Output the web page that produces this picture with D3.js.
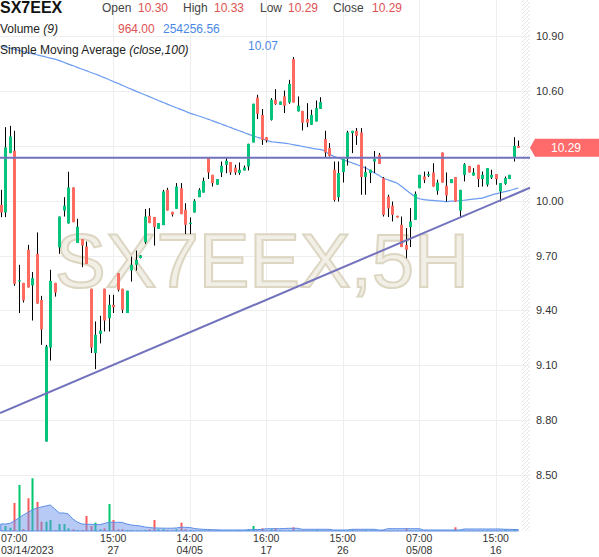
<!DOCTYPE html>
<html><head><meta charset="utf-8">
<script src="https://cdn.jsdelivr.net/npm/d3@7"></script>
<style>body{margin:0;background:#fff;} svg{display:block;font-family:"Liberation Sans",Arial,sans-serif;}</style>
</head><body><svg id="c" width="599" height="557"></svg>
<script>
const opens = [9.978,9.936,10.261,10.274,9.562,9.551,9.732,9.537,9.71,9.457,8.683,9.197,9.551,9.745,9.947,9.876,10.073,9.769,9.79,9.75,9.519,9.167,9.272,9.519,9.358,9.431,9.604,9.519,9.386,9.619,9.65,9.687,9.774,9.918,9.911,9.847,9.867,10.06,9.94,9.956,10.069,9.951,9.876,9.936,10.02,10.045,10.237,10.142,10.088,10.155,10.197,10.212,10.181,10.152,10.166,10.188,10.319,10.565,10.47,10.348,10.443,10.553,10.525,10.571,10.538,10.775,10.489,10.492,10.447,10.416,10.434,10.503,10.338,10.288,10.17,10.02,10.157,10.228,10.37,10.383,10.374,10.13,10.152,10.215,10.252,10.124,10.023,9.973,9.918,9.869,9.759,9.856,9.896,10.069,10.133,10.138,10.155,10.055,10.264,10.082,10.097,10.13,9.947,10.142,10.191,10.138,10.197,10.119,10.088,10.127,10.146,10.051,10.093,10.119,10.234,10.30];
const highs = [10.06,10.403,10.41,10.383,9.65,9.551,9.759,9.61,9.827,9.48,9.212,9.623,9.551,9.914,10.02,10.159,10.073,9.902,9.79,9.777,9.519,9.34,9.371,9.519,9.486,9.486,9.604,9.519,9.508,9.695,9.728,9.703,9.955,9.96,9.911,9.878,10.06,10.071,9.94,10.097,10.097,9.987,9.909,10.009,10.069,10.127,10.237,10.142,10.119,10.215,10.239,10.212,10.197,10.21,10.193,10.312,10.531,10.58,10.502,10.348,10.562,10.611,10.543,10.603,10.662,10.786,10.571,10.492,10.534,10.498,10.549,10.567,10.383,10.316,10.215,10.215,10.228,10.383,10.383,10.398,10.398,10.188,10.17,10.273,10.261,10.13,10.033,9.996,9.918,9.914,9.851,9.96,10.051,10.142,10.16,10.16,10.206,10.115,10.264,10.155,10.119,10.13,10.06,10.206,10.191,10.179,10.197,10.16,10.179,10.17,10.146,10.097,10.133,10.142,10.348,10.33];
const lows = [9.91,9.911,10.26,9.535,9.386,9.444,9.526,9.345,9.438,9.212,8.683,9.126,9.476,9.71,9.914,9.876,9.883,9.769,9.637,9.655,9.167,9.079,9.22,9.285,9.285,9.386,9.504,9.386,9.386,9.558,9.619,9.685,9.765,9.878,9.755,9.847,9.867,9.947,9.914,9.956,9.927,9.818,9.818,9.936,10.02,10.045,10.119,10.078,10.088,10.13,10.151,10.142,10.142,10.142,10.166,10.166,10.319,10.447,10.306,10.319,10.439,10.525,10.525,10.48,10.531,10.538,10.489,10.385,10.403,10.416,10.434,10.503,10.239,10.242,9.996,9.996,10.1,10.193,10.261,10.306,10.033,10.033,10.097,10.152,10.202,9.914,9.911,9.887,9.909,9.747,9.686,9.747,9.896,10.069,10.097,10.13,10.078,10.033,10.1,9.996,10.097,9.996,9.911,10.106,10.155,10.138,10.075,10.078,10.078,10.119,10.088,9.996,10.088,10.119,10.215,10.29];
const closes = [9.936,10.292,10.352,9.546,9.565,9.455,9.526,9.577,9.438,9.296,9.203,9.562,9.498,9.914,9.973,10.073,9.883,9.858,9.755,9.655,9.197,9.267,9.29,9.345,9.431,9.418,9.513,9.404,9.508,9.65,9.677,9.701,9.914,9.878,9.856,9.878,10.051,9.947,9.925,10.078,9.927,9.869,9.88,10.0,10.06,10.109,10.155,10.097,10.119,10.191,10.219,10.155,10.155,10.17,10.182,10.312,10.531,10.476,10.334,10.33,10.553,10.529,10.543,10.52,10.64,10.538,10.52,10.427,10.428,10.47,10.507,10.54,10.264,10.246,10.005,10.152,10.228,10.374,10.383,10.356,10.13,10.157,10.17,10.228,10.202,9.923,9.959,9.923,9.909,9.747,9.732,9.887,10.038,10.142,10.115,10.146,10.078,10.1,10.1,10.029,10.119,9.996,10.06,10.2,10.155,10.155,10.119,10.142,10.179,10.142,10.119,10.097,10.124,10.142,10.301,10.29];
const volumes = [170000,850000,561000,4760000,7820000,340000,5559000,8959000,4930000,1581000,1581000,1870000,170000,1190000,1190000,459000,289000,170000,170000,2550000,850000,1411000,289000,459000,4590000,1870000,289000,289000,170000,170000,85000,85000,170000,289000,1870000,289000,289000,170000,85000,289000,1411000,289000,170000,85000,85000,85000,85000,85000,85000,85000,85000,85000,85000,170000,85000,289000,850000,85000,459000,85000,289000,459000,85000,85000,85000,629000,85000,85000,85000,85000,170000,85000,85000,85000,85000,85000,85000,85000,170000,85000,85000,170000,85000,85000,85000,170000,85000,85000,85000,85000,459000,85000,85000,85000,85000,85000,85000,85000,85000,85000,85000,629000,85000,85000,85000,85000,85000,85000,85000,85000,85000,85000,289000,85000,340000,964];
const volumeMA = [1190000,1190000,1275000,1700000,2210000,2720000,3145000,3570000,3910000,4080000,4250000,4420000,3740000,3060000,3060000,2890000,2040000,1530000,1190000,1139000,1139000,1105000,1071000,1275000,1479000,1479000,1479000,1445000,1190000,1020000,935000,850000,680000,595000,510000,510000,476000,476000,476000,510000,629000,629000,595000,425000,340000,289000,255000,221000,204000,170000,170000,170000,170000,170000,170000,204000,255000,255000,255000,391000,391000,391000,391000,425000,459000,459000,459000,289000,289000,289000,289000,289000,289000,289000,170000,170000,170000,170000,289000,289000,289000,289000,289000,289000,170000,170000,391000,391000,391000,391000,391000,391000,391000,391000,170000,170000,170000,170000,170000,170000,170000,170000,170000,340000,340000,340000,340000,340000,340000,340000,340000,340000,289000,289000,255000,254256.56];
const sma = [10.847,10.841,10.835,10.829,10.823,10.817,10.811,10.805,10.799,10.793,10.787,10.781,10.775,10.767,10.758,10.748,10.740,10.730,10.721,10.712,10.702,10.694,10.684,10.674,10.664,10.653,10.643,10.632,10.621,10.611,10.600,10.590,10.580,10.570,10.560,10.549,10.539,10.529,10.519,10.509,10.500,10.490,10.480,10.472,10.464,10.456,10.447,10.439,10.429,10.420,10.411,10.402,10.392,10.383,10.374,10.365,10.356,10.348,10.340,10.331,10.324,10.321,10.318,10.316,10.312,10.307,10.303,10.298,10.293,10.288,10.284,10.281,10.272,10.254,10.244,10.234,10.225,10.217,10.208,10.199,10.190,10.181,10.167,10.154,10.140,10.124,10.115,10.106,10.097,10.080,10.060,10.041,10.024,10.011,10.007,10.004,10.002,10.000,9.998,9.996,9.998,9.999,10.001,10.003,10.006,10.009,10.012,10.015,10.023,10.031,10.038,10.044,10.050,10.056,10.063,10.07];
const priceTicks = [8.5,8.8,9.1,9.4,9.7,10.0,10.3,10.6,10.9];
const timeTickIndex = [3,25,42,59,76,93,110];
const timeTickTop = ["07:00","15:00","14:00","16:00","15:00","07:00","15:00"];
const timeTickBottom = ["03/14/2023","27","04/05","17","26","05/08","16"];
const hLineLevel = 10.235;
const trendPoints = [{i:0, v:8.841},{i:115, v:10.044}];
const lastPrice = 10.29;

const svg = d3.select("#c");
const W = 599, plotR = 522, stripR = 530, volBase = 531;
const x = d3.scaleLinear().domain([0,115]).range([0.75,518.25]);
const y = d3.scaleLinear().domain([8.5,10.9]).range([475,36.3]);
const vy = d3.scaleLinear().domain([0,9000000]).range([volBase,478]);
const green = "#07c47c", red = "#ff6b61";

// hatch pattern
const defs = svg.append("defs");
const pat = defs.append("pattern").attr("id","hatch").attr("width",4).attr("height",4)
  .attr("patternUnits","userSpaceOnUse");
pat.append("path").attr("d","M-1,1 l2,-2 M0,4 l4,-4 M3,5 l2,-2").attr("stroke","#e4e4e4").attr("stroke-width",1);
svg.append("rect").attr("x",plotR).attr("y",0).attr("width",stripR-plotR).attr("height",volBase).attr("fill","url(#hatch)");

// gridlines
svg.append("g").selectAll("line").data(priceTicks).join("line")
  .attr("x1",0).attr("x2",stripR).attr("y1",d=>Math.round(y(d))+0.5).attr("y2",d=>Math.round(y(d))+0.5)
  .attr("stroke","#eeeeee");
svg.append("g").selectAll("line").data(timeTickIndex.slice(1)).join("line")
  .attr("x1",d=>Math.round(x(d))+0.5).attr("x2",d=>Math.round(x(d))+0.5).attr("y1",0).attr("y2",volBase)
  .attr("stroke","#eeeeee");

// watermark
svg.append("text").attr("x",262).attr("y",287).attr("text-anchor","middle")
  .attr("font-size",76).attr("fill","#f2efe6").attr("stroke","#dcd6c3").attr("stroke-width",2)
  .text("SX7EEX,5H");

// SMA line
svg.append("path").datum(sma).attr("fill","none").attr("stroke","#6b9cf0").attr("stroke-width",1.2)
  .attr("d", d3.line().x((d,i)=>x(i)).y(d=>y(d)).curve(d3.curveMonotoneX));

// candles
const idx = d3.range(opens.length);
const cg = svg.append("g");
cg.selectAll("line").data(idx).join("line")
  .attr("x1",i=>Math.round(x(i))+0.5).attr("x2",i=>Math.round(x(i))+0.5)
  .attr("y1",i=>y(highs[i])).attr("y2",i=>y(lows[i]))
  .attr("stroke","#000").attr("stroke-width",1);
cg.selectAll("rect").data(idx).join("rect")
  .attr("x",i=>Math.round(x(i))-1).attr("width",3)
  .attr("y",i=>y(Math.max(opens[i],closes[i])))
  .attr("height",i=>Math.max(1.2,Math.abs(y(opens[i])-y(closes[i]))))
  .attr("fill",i=>closes[i]>=opens[i]?green:red);

// lines
const lineCol = "#7272bd";
svg.append("line").attr("x1",0).attr("x2",stripR).attr("y1",y(hLineLevel)).attr("y2",y(hLineLevel))
  .attr("stroke",lineCol).attr("stroke-width",2);
const p0 = trendPoints[0], p1 = trendPoints[1];
const slope = (p1.v-p0.v)/(p1.i-p0.i);
const iL = x.invert(0), iR = x.invert(stripR);
svg.append("line").attr("x1",0).attr("y1",y(p0.v+slope*(iL-p0.i)))
  .attr("x2",stripR).attr("y2",y(p0.v+slope*(iR-p0.i)))
  .attr("stroke",lineCol).attr("stroke-width",2);

// volume
svg.append("g").selectAll("rect").data(idx).join("rect")
  .attr("x",i=>Math.round(x(i))-0.5).attr("width",2)
  .attr("y",i=>vy(volumes[i])).attr("height",i=>volBase-vy(volumes[i]))
  .attr("fill",i=>closes[i]>=opens[i]?"#00c86e":"#ff5a5a");
svg.append("path").datum(volumeMA).attr("fill","rgba(110,150,235,0.5)").attr("stroke","#5b8ee6").attr("stroke-width",1)
  .attr("d", d3.area().x((d,i)=>x(i)).y0(volBase).y1(d=>vy(d)));

// last price label position (tick label hidden under it is skipped)
const ly = y(lastPrice);

// y labels
svg.append("g").selectAll("text").data(priceTicks.filter(d=>Math.abs(y(d)-ly)>12)).join("text")
  .attr("x",536).attr("y",d=>y(d)+4).attr("font-size",11).attr("fill","#333")
  .text(d=>d3.format(".2f")(d));

svg.append("path").attr("d",`M530,${ly} L535,${ly-9} H${W} V${ly+9} H535 Z`).attr("fill","#ff6b6b");
svg.append("text").attr("x",566).attr("y",ly+4.5).attr("text-anchor","middle").attr("font-size",12)
  .attr("fill","#fff").text(d3.format(".2f")(lastPrice));

// x labels
const xl = svg.append("g").attr("font-size",10.5).attr("fill","#333");
timeTickIndex.forEach((d,k)=>{
  const first = k===0;
  const tx = first ? 1 : x(d);
  const anchor = first ? "start" : "middle";
  xl.append("text").attr("x",tx).attr("y",542).attr("text-anchor",anchor).text(timeTickTop[k]);
  xl.append("text").attr("x",tx).attr("y",553.5).attr("text-anchor",anchor).text(timeTickBottom[k]);
});

// header
const hdr = svg.append("g");
hdr.append("text").attr("x",0).attr("y",13).attr("font-size",16).attr("font-weight","bold").attr("fill","#111").text("SX7EEX");
const redT = "#e05252", blueT = "#4a88e4", labT = "#444";
const row1 = [["Open",102,labT],[d3.format(".2f")(opens[opens.length-1]),138,redT],["High",183,labT],[d3.format(".2f")(10.33),214,redT],
  ["Low",260,labT],[d3.format(".2f")(lows[lows.length-1]),288,redT],["Close",333,labT],[d3.format(".2f")(closes[closes.length-1]),372,redT]];
row1.forEach(r=>hdr.append("text").attr("x",r[1]).attr("y",12).attr("font-size",12).attr("fill",r[2]).text(r[0]));
const t2 = hdr.append("text").attr("x",0).attr("y",33).attr("font-size",12).attr("fill","#222");
t2.append("tspan").text("Volume ");
t2.append("tspan").attr("font-style","italic").text("(9)");
hdr.append("text").attr("x",118).attr("y",33).attr("font-size",12).attr("fill",redT).text(d3.format(".2f")(volumes[volumes.length-1]));
hdr.append("text").attr("x",163).attr("y",33).attr("font-size",12).attr("fill",blueT).text(d3.format(".2f")(volumeMA[volumeMA.length-1]));
const t3 = hdr.append("text").attr("x",0).attr("y",54).attr("font-size",12).attr("fill","#222");
t3.append("tspan").text("Simple Moving Average ");
t3.append("tspan").attr("font-style","italic").text("(close,100)");
hdr.append("text").attr("x",248).attr("y",50).attr("font-size",12).attr("fill",blueT).text(d3.format(".2f")(sma[sma.length-1]));
</script></body></html>
